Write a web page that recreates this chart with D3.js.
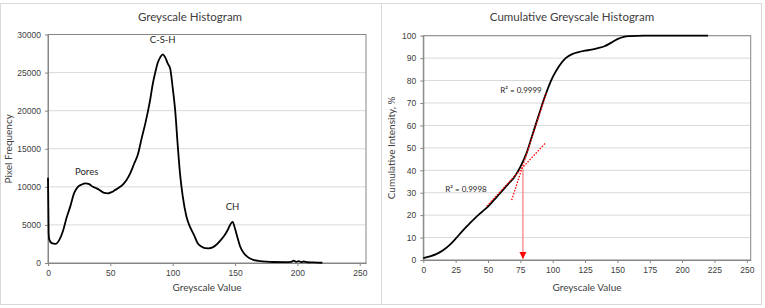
<!DOCTYPE html>
<html>
<head>
<meta charset="utf-8">
<script src="https://cdn.jsdelivr.net/npm/d3@7"></script>
<style>
  body { margin: 0; background: #fff; }
  svg { display: block; font-family: Lato, "Open Sans", sans-serif; }
  .axis path, .axis line { stroke: #868686; }
  .axis text { fill: #404040; font-size: 8.5px; }
</style>
</head>
<body>
<svg id="chart" width="765" height="308"></svg>
<script>
// Greyscale histogram values
const histGrey = [0, 0.5, 1, 3, 6, 9, 12, 15, 18, 21, 24, 27, 30, 33, 36, 39, 42, 45, 48, 51, 54, 57, 60, 63, 66, 69, 72, 75, 78, 80, 82, 84, 86, 88, 90, 92, 94, 96, 98, 100, 102, 104, 106, 108, 111, 114, 117, 120, 123, 126, 129, 132, 135, 138, 141, 144, 146, 148, 150, 152, 154, 157, 160, 164, 170, 175, 180, 190, 195, 197, 199, 201, 203, 205, 208, 212, 216, 220];
const histFreq = [11200, 4000, 3100, 2600, 2500, 3000, 4200, 6000, 7500, 9200, 10000, 10300, 10450, 10350, 10000, 9800, 9500, 9200, 9150, 9300, 9600, 9900, 10300, 10900, 11800, 13000, 14200, 16300, 18300, 19800, 21500, 23500, 25000, 26300, 27000, 27400, 27000, 26200, 25500, 23000, 20000, 15500, 11500, 8800, 6100, 4700, 3700, 2600, 2150, 1950, 1930, 2050, 2400, 2900, 3500, 4300, 5000, 5400, 4500, 3300, 2200, 1300, 800, 450, 250, 170, 130, 120, 150, 300, 150, 250, 120, 200, 100, 80, 60, 30];
const histLabels = [["Pores", 31, 11500], ["C-S-H", 92, 28900], ["CH", 148, 6900]];

// Cumulative histogram
const cumGrey = [0, 5, 10, 15, 20, 25, 30, 35, 40, 45, 50, 55, 60, 65, 70, 75, 80, 85, 90, 95, 100, 105, 110, 115, 120, 125, 130, 135, 140, 145, 150, 155, 160, 170, 220];
const cumPct = [0.8, 1.6, 2.6, 4.2, 6.5, 9.5, 12.8, 15.8, 18.7, 21.3, 23.8, 27.0, 30.2, 33.5, 36.7, 41.5, 48, 57, 66, 74.5, 81.5, 86.5, 90, 91.8, 92.7, 93.3, 93.8, 94.5, 95.3, 96.8, 98.5, 99.5, 99.8, 100, 100];
// linear trendlines [x0, y0, x1, y1] and their R² labels
const fitLow = [49, 24, 94.6, 52.3];
const fitHigh = [68.3, 26.7, 95.4, 75];
const fitLabels = [["R² = 0.9998", 33, 30.3], ["R² = 0.9999", 75.5, 74.3]];
const arrowGrey = 77;
const arrowTop = 40.7;

const histTicksX = [0, 50, 100, 150, 200, 250];
const histTicksY = [0, 5000, 10000, 15000, 20000, 25000, 30000];
const cumTicksX = d3.range(0, 251, 25);
const cumTicksY = d3.range(0, 101, 10);

const svg = d3.select("#chart");

// panel frames, light grey like the Excel chart areas
svg.append("rect").attr("x", 0.5).attr("y", 3.5).attr("width", 381).attr("height", 301)
   .attr("fill", "none").attr("stroke", "#d9d9d9");
svg.append("rect").attr("x", 381.5).attr("y", 3.5).attr("width", 380).attr("height", 301)
   .attr("fill", "none").attr("stroke", "#d9d9d9");

function drawPanel(opts) {
    const x = d3.scaleLinear().domain(opts.xDomain).range([opts.left, opts.right]);
    const y = d3.scaleLinear().domain(opts.yDomain).range([opts.bottom, opts.top]);
    const g = svg.append("g");

    // gridlines
    g.selectAll(".grid").data(opts.yTicks.slice(1)).join("line")
        .attr("x1", opts.left).attr("x2", opts.right)
        .attr("y1", d => y(d)).attr("y2", d => y(d))
        .attr("stroke", "#d9d9d9").attr("stroke-width", 1);

    // plot frame
    g.append("rect")
        .attr("x", opts.left).attr("y", opts.top)
        .attr("width", opts.right - opts.left).attr("height", opts.bottom - opts.top)
        .attr("fill", "none").attr("stroke", "#868686");

    g.append("g").attr("class", "axis")
        .attr("transform", `translate(0,${opts.bottom})`)
        .call(d3.axisBottom(x).tickValues(opts.xTicks).tickFormat(d3.format("d"))
              .tickSize(3).tickPadding(4).tickSizeOuter(0));
    g.append("g").attr("class", "axis")
        .attr("transform", `translate(${opts.left},0)`)
        .call(d3.axisLeft(y).tickValues(opts.yTicks).tickFormat(d3.format("d"))
              .tickSize(3).tickPadding(4).tickSizeOuter(0));

    // titles
    g.append("text").attr("x", opts.titleX).attr("y", 21)
        .attr("text-anchor", "middle").style("font-size", "11.5px").style("fill", "#404040")
        .text(opts.title);
    g.append("text").attr("x", (opts.left + opts.right) / 2).attr("y", 291)
        .attr("text-anchor", "middle").style("font-size", "10px").style("fill", "#404040")
        .text("Greyscale Value");
    g.append("text")
        .attr("transform", `translate(${opts.yTitleX},${(opts.top + opts.bottom) / 2}) rotate(-90)`)
        .attr("text-anchor", "middle").style("font-size", "10px").style("fill", "#404040")
        .text(opts.yTitle);

    return { g, x, y };
}

// ---- left: greyscale histogram ----
const left = drawPanel({
    xDomain: [0, 255], yDomain: [0, 30000],
    left: 48, right: 366, top: 34.5, bottom: 263,
    xTicks: histTicksX, yTicks: histTicksY,
    title: "Greyscale Histogram", titleX: 190,
    yTitle: "Pixel Frequency", yTitleX: 12
});

const histLine = d3.line().x(d => left.x(d[0])).y(d => left.y(d[1])).curve(d3.curveMonotoneX);
left.g.append("path")
    .datum(histGrey.map((v, i) => [v, histFreq[i]]))
    .attr("d", histLine)
    .attr("fill", "none").attr("stroke", "#000").attr("stroke-width", 1.8);

left.g.selectAll(".peak").data(histLabels).join("text")
    .attr("x", d => left.x(d[1])).attr("y", d => left.y(d[2]))
    .attr("text-anchor", "middle").style("font-size", "9.5px").style("fill", "#262626")
    .text(d => d[0]);

// ---- right: cumulative histogram ----
const right = drawPanel({
    xDomain: [0, 253], yDomain: [0, 100],
    left: 423.3, right: 750.7, top: 35.7, bottom: 260,
    xTicks: cumTicksX, yTicks: cumTicksY,
    title: "Cumulative Greyscale Histogram", titleX: 572,
    yTitle: "Cumulative Intensity, %", yTitleX: 395
});

const cumLine = d3.line().x(d => right.x(d[0])).y(d => right.y(d[1])).curve(d3.curveMonotoneX);
right.g.append("path")
    .datum(cumGrey.map((v, i) => [v, cumPct[i]]))
    .attr("d", cumLine)
    .attr("fill", "none").attr("stroke", "#000").attr("stroke-width", 1.8);

// dotted red trendlines
[fitLow, fitHigh].forEach(f => {
    right.g.append("line")
        .attr("x1", right.x(f[0])).attr("y1", right.y(f[1]))
        .attr("x2", right.x(f[2])).attr("y2", right.y(f[3]))
        .attr("stroke", "#ff0000").attr("stroke-width", 1.3)
        .attr("stroke-dasharray", "1.5,1.5");
});

right.g.selectAll(".r2").data(fitLabels).join("text")
    .attr("x", d => right.x(d[1])).attr("y", d => right.y(d[2]))
    .attr("text-anchor", "middle").style("font-size", "8px").style("fill", "#262626")
    .text(d => d[0]);

// arrow down to the x axis
const defs = svg.append("defs");
defs.append("marker").attr("id", "arrow")
    .attr("viewBox", "0 0 10 10").attr("refX", 10).attr("refY", 5)
    .attr("markerWidth", 6).attr("markerHeight", 6).attr("orient", "auto")
    .append("path").attr("d", "M0,0L10,5L0,10Z").attr("fill", "#ff0000");
right.g.append("line")
    .attr("x1", right.x(arrowGrey)).attr("y1", right.y(arrowTop))
    .attr("x2", right.x(arrowGrey)).attr("y2", right.y(0) - 1)
    .attr("stroke", "#f47c7c").attr("stroke-width", 1.2)
    .attr("marker-end", "url(#arrow)");
</script>
</body>
</html>
